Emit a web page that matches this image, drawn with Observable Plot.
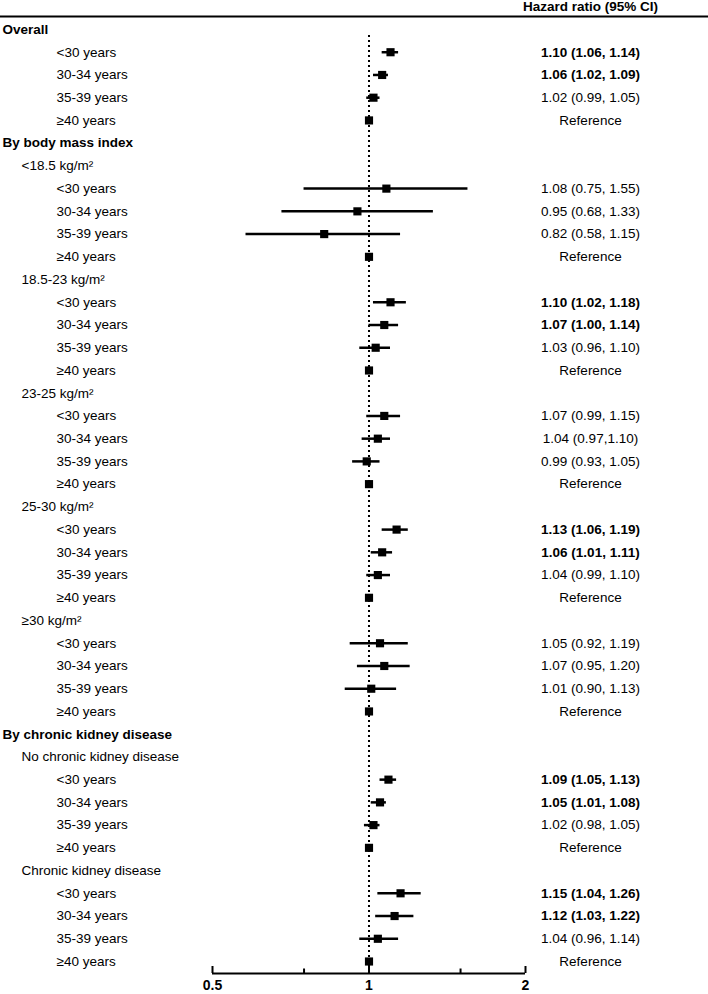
<!DOCTYPE html>
<html><head><meta charset="utf-8">
<script src="https://cdn.jsdelivr.net/npm/d3@7"></script>
<script src="https://cdn.jsdelivr.net/npm/@observablehq/plot@0.6"></script>
<style>body{margin:0;background:#fff}</style>
</head><body><div id="chart"></div>
<script>
// ---- data ----
const headerText = "Hazard ratio (95% CI)";
const rowLabels = [
  "Overall", "<30 years", "30-34 years", "35-39 years", "≥40 years",
  "By body mass index",
  "<18.5 kg/m²", "<30 years", "30-34 years", "35-39 years", "≥40 years",
  "18.5-23 kg/m²", "<30 years", "30-34 years", "35-39 years", "≥40 years",
  "23-25 kg/m²", "<30 years", "30-34 years", "35-39 years", "≥40 years",
  "25-30 kg/m²", "<30 years", "30-34 years", "35-39 years", "≥40 years",
  "≥30 kg/m²", "<30 years", "30-34 years", "35-39 years", "≥40 years",
  "By chronic kidney disease",
  "No chronic kidney disease", "<30 years", "30-34 years", "35-39 years", "≥40 years",
  "Chronic kidney disease", "<30 years", "30-34 years", "35-39 years", "≥40 years"
];
const rowLevels = [
  0, 2, 2, 2, 2,
  0,
  1, 2, 2, 2, 2,
  1, 2, 2, 2, 2,
  1, 2, 2, 2, 2,
  1, 2, 2, 2, 2,
  1, 2, 2, 2, 2,
  0,
  1, 2, 2, 2, 2,
  1, 2, 2, 2, 2
];
const hazardRatio = [
  null, 1.10, 1.06, 1.02, 1,
  null,
  null, 1.08, 0.95, 0.82, 1,
  null, 1.10, 1.07, 1.03, 1,
  null, 1.07, 1.04, 0.99, 1,
  null, 1.13, 1.06, 1.04, 1,
  null, 1.05, 1.07, 1.01, 1,
  null,
  null, 1.09, 1.05, 1.02, 1,
  null, 1.15, 1.12, 1.04, 1
];
const ciLower = [
  null, 1.06, 1.02, 0.99, null,
  null,
  null, 0.75, 0.68, 0.58, null,
  null, 1.02, 1.00, 0.96, null,
  null, 0.99, 0.97, 0.93, null,
  null, 1.06, 1.01, 0.99, null,
  null, 0.92, 0.95, 0.90, null,
  null,
  null, 1.05, 1.01, 0.98, null,
  null, 1.04, 1.03, 0.96, null
];
const ciUpper = [
  null, 1.14, 1.09, 1.05, null,
  null,
  null, 1.55, 1.33, 1.15, null,
  null, 1.18, 1.14, 1.10, null,
  null, 1.15, 1.10, 1.05, null,
  null, 1.19, 1.11, 1.10, null,
  null, 1.19, 1.20, 1.13, null,
  null,
  null, 1.13, 1.08, 1.05, null,
  null, 1.26, 1.22, 1.14, null
];
const ciText = [
  "", "1.10 (1.06, 1.14)", "1.06 (1.02, 1.09)", "1.02 (0.99, 1.05)", "Reference",
  "",
  "", "1.08 (0.75, 1.55)", "0.95 (0.68, 1.33)", "0.82 (0.58, 1.15)", "Reference",
  "", "1.10 (1.02, 1.18)", "1.07 (1.00, 1.14)", "1.03 (0.96, 1.10)", "Reference",
  "", "1.07 (0.99, 1.15)", "1.04 (0.97,1.10)", "0.99 (0.93, 1.05)", "Reference",
  "", "1.13 (1.06, 1.19)", "1.06 (1.01, 1.11)", "1.04 (0.99, 1.10)", "Reference",
  "", "1.05 (0.92, 1.19)", "1.07 (0.95, 1.20)", "1.01 (0.90, 1.13)", "Reference",
  "",
  "", "1.09 (1.05, 1.13)", "1.05 (1.01, 1.08)", "1.02 (0.98, 1.05)", "Reference",
  "", "1.15 (1.04, 1.26)", "1.12 (1.03, 1.22)", "1.04 (0.96, 1.14)", "Reference"
];
const ciBold = [
  0, 1, 1, 0, 0,
  0,
  0, 0, 0, 0, 0,
  0, 1, 1, 0, 0,
  0, 0, 0, 0, 0,
  0, 1, 1, 0, 0,
  0, 0, 0, 0, 0,
  0,
  0, 1, 1, 0, 0,
  0, 1, 1, 0, 0
];
const majorTicks = [0.5, 1, 2];
const majorTickLabels = ["0.5", "1", "2"];
const minorTicks = [0.75, 1.5];
const referenceValue = 1;

// ---- build table ----
const rows = rowLabels.map((label, i) => ({
  i, label, level: rowLevels[i], hr: hazardRatio[i],
  lo: ciLower[i], hi: ciUpper[i], text: ciText[i], bold: ciBold[i] === 1
}));
const nRows = rows.length;
const rowPx = 22.73;
const axisRow = (nRows - 1) + 12 / rowPx;
const ticksMajor = majorTicks.map((v, k) => ({v, label: majorTickLabels[k]}));

const chart = Plot.plot({
  width: 708,
  height: 994,
  margin: 0,
  x: {type: "log", domain: [majorTicks[0], majorTicks[majorTicks.length - 1]], range: [212, 525], axis: null},
  y: {domain: [0, axisRow], range: [29, 973], axis: null},
  style: {fontFamily: "'Liberation Sans', Arial, Helvetica, sans-serif", fontSize: "13.5px", background: "white", color: "black"},
  marks: [
    // header
    Plot.ruleY([-13 / rowPx], {stroke: "black", strokeWidth: 2}),
    Plot.text([{t: headerText, row: -1}], {y: "row", text: "t", frameAnchor: "right", dx: -118, textAnchor: "middle", fontWeight: "bold", fill: "black"}),
    // reference line
    Plot.ruleX([referenceValue], {y1: 6 / rowPx, y2: axisRow, stroke: "black", strokeWidth: 2, strokeDasharray: "2,3"}),
    // confidence intervals
    Plot.ruleY(rows.filter(d => d.lo != null), {y: "i", x1: "lo", x2: "hi", stroke: "black", strokeWidth: 2.5}),
    // point estimates
    Plot.dot(rows.filter(d => d.hr != null), {x: "hr", y: "i", symbol: "square", r: 4.6, fill: "black", stroke: "none"}),
    // axis
    Plot.ruleY([axisRow], {x1: majorTicks[0], x2: majorTicks[majorTicks.length - 1], stroke: "black", strokeWidth: 2}),
    Plot.ruleX(majorTicks, {y1: axisRow, y2: axisRow - 7 / rowPx, stroke: "black", strokeWidth: 2}),
    Plot.ruleX(minorTicks, {y1: axisRow, y2: axisRow - 4.5 / rowPx, stroke: "black", strokeWidth: 2}),
    Plot.text(ticksMajor, {x: "v", y: () => axisRow, text: "label", dy: 12, fontWeight: "bold", fontSize: 14, fill: "black"}),
    // left labels
    Plot.text(rows.filter(d => d.level === 0), {y: "i", text: "label", frameAnchor: "left", dx: 2, textAnchor: "start", fontWeight: "bold", fill: "black"}),
    Plot.text(rows.filter(d => d.level === 1), {y: "i", text: "label", frameAnchor: "left", dx: 21, textAnchor: "start", fill: "black"}),
    Plot.text(rows.filter(d => d.level === 2), {y: "i", text: "label", frameAnchor: "left", dx: 56, textAnchor: "start", fill: "black"}),
    // right column
    Plot.text(rows.filter(d => d.text && d.bold), {y: "i", text: "text", frameAnchor: "right", dx: -118, textAnchor: "middle", fontWeight: "bold", fill: "black"}),
    Plot.text(rows.filter(d => d.text && !d.bold), {y: "i", text: "text", frameAnchor: "right", dx: -118, textAnchor: "middle", fill: "black"})
  ]
});
document.getElementById("chart").appendChild(chart);
</script>
</body></html>
